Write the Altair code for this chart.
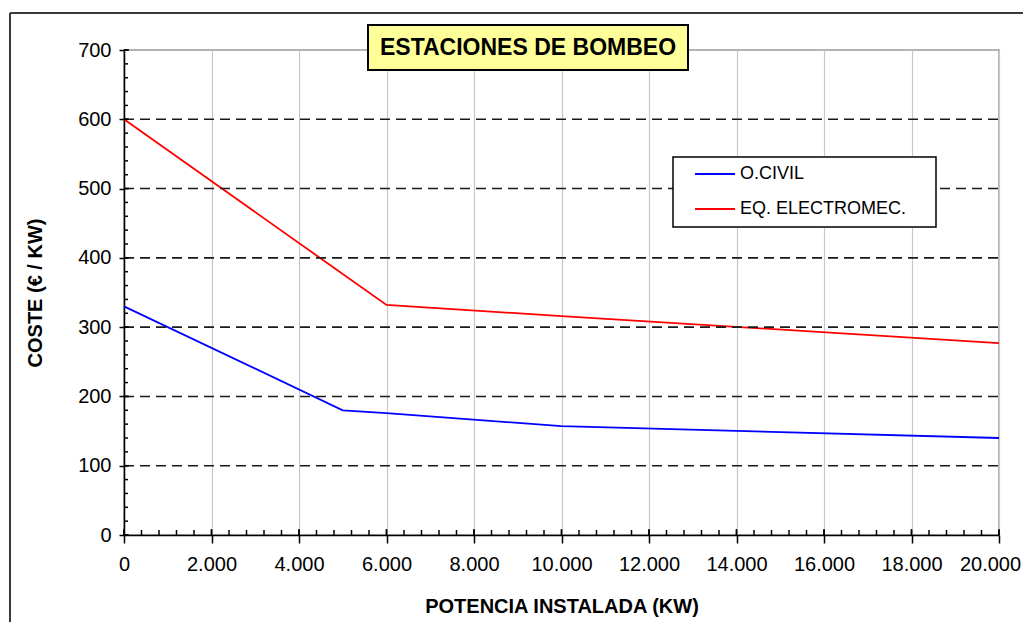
import altair as alt
import pandas as pd

# ---------------- data ----------------
series_names = ["O.CIVIL", "EQ. ELECTROMEC."]
series_colors = ["#0000FF", "#FF0000"]

civil_x = [0, 5000, 6000, 10000, 20000]
civil_y = [330, 180, 176, 157, 140]
elec_x = [0, 6000, 10000, 20000]
elec_y = [600, 332, 316, 277]

x_ticks = list(range(0, 20001, 2000))
y_ticks = list(range(0, 701, 100))
y_dash = [100, 200, 300, 400, 500, 600]
x_minor = list(range(0, 20001, 400))
y_minor = list(range(0, 701, 20))

chart_title = "ESTACIONES DE BOMBEO"
x_title = "POTENCIA INSTALADA (KW)"
y_title = "COSTE (€ / KW)"

# ---------------- layout ----------------
W, H = 875, 485
FONT = "Liberation Sans"

rows = []
for xv, yv in zip(civil_x, civil_y):
    rows.append({"series": series_names[0], "x": xv, "y": yv})
for xv, yv in zip(elec_x, elec_y):
    rows.append({"series": series_names[1], "x": xv, "y": yv})
df = pd.DataFrame(rows)

xs = alt.Scale(domain=[0, 20000], nice=False, zero=False)
ys = alt.Scale(domain=[0, 700], nice=False)
cs = alt.Scale(domain=series_names, range=series_colors)

x_axis = alt.Axis(
    values=x_ticks,
    labelExpr="replace(format(datum.value, ','), ',', '.')",
    labelFlush=False, labelOverlap=False,
    labelOffset=alt.condition("datum.value == 20000", alt.value(-9), alt.value(0)),
    labelFont=FONT, labelFontSize=20, labelColor="black", labelPadding=11,
    tickSize=8, tickColor="black", tickWidth=1.5,
    domainColor="black", domainWidth=1.5,
    grid=True, gridColor="#c8c8c8", gridWidth=1.2,
    title=x_title, titleFont=FONT, titleFontSize=20, titleFontWeight="bold",
    titleColor="black", titleX=W / 2, titleY=71, titleAlign="center",
    titleBaseline="middle",
)
y_axis = alt.Axis(
    values=y_ticks,
    labelFlush=False, labelOverlap=False,
    labelFont=FONT, labelFontSize=20, labelColor="black", labelPadding=8,
    tickSize=5, tickColor="black", tickWidth=1.5,
    domainColor="black", domainWidth=1.5,
    grid=False,
    title=y_title, titleFont=FONT, titleFontSize=20, titleFontWeight="bold",
    titleColor="black", titleAngle=270, titleX=-89, titleY=H / 2,
    titleAlign="center", titleBaseline="middle",
)

lines = alt.Chart(df).mark_line(strokeWidth=1.8).encode(
    x=alt.X("x:Q", scale=xs, axis=x_axis),
    y=alt.Y("y:Q", scale=ys, axis=y_axis),
    color=alt.Color("series:N", scale=cs, legend=None),
)

dash_grid = alt.Chart(pd.DataFrame({"y": y_dash})).mark_rule(
    color="#1a1a1a", strokeWidth=1.6, strokeDash=[10, 6]
).encode(y=alt.Y("y:Q", scale=ys, axis=y_axis), x=alt.value(0), x2=alt.value(W))

y_minor_ticks = alt.Chart(pd.DataFrame({"y": y_minor})).mark_rule(
    color="black", strokeWidth=1.5
).encode(y=alt.Y("y:Q", scale=ys, axis=y_axis), x=alt.value(0), x2=alt.value(4))
y_major_ticks = alt.Chart(pd.DataFrame({"y": y_ticks})).mark_rule(
    color="black", strokeWidth=1.5
).encode(y=alt.Y("y:Q", scale=ys, axis=y_axis), x=alt.value(0), x2=alt.value(5))
x_minor_ticks = alt.Chart(pd.DataFrame({"x": x_minor})).mark_rule(
    color="black", strokeWidth=1.5
).encode(x=alt.X("x:Q", scale=xs, axis=x_axis), y=alt.value(H), y2=alt.value(H - 5))
x_major_ticks = alt.Chart(pd.DataFrame({"x": x_ticks})).mark_rule(
    color="black", strokeWidth=1.5
).encode(x=alt.X("x:Q", scale=xs, axis=x_axis), y=alt.value(H), y2=alt.value(H - 6))

one = pd.DataFrame({"t": [chart_title]})

# outer frame (top and left edges visible)
frame_top = alt.Chart(one).mark_rule(color="#3a3a3a", strokeWidth=2).encode(
    x=alt.value(-114), x2=alt.value(W + 40), y=alt.value(-37))
frame_left = alt.Chart(one).mark_rule(color="#3a3a3a", strokeWidth=2).encode(
    x=alt.value(-114), y=alt.value(-37), y2=alt.value(H + 100))

# title box
title_box = alt.Chart(one).mark_rect(fill="#FFFF99", stroke="black", strokeWidth=2).encode(
    x=alt.value(244), x2=alt.value(564), y=alt.value(-25), y2=alt.value(20))
title_text = alt.Chart(one).mark_text(
    font=FONT, fontSize=23, fontWeight="bold", color="black",
    align="center", baseline="middle"
).encode(x=alt.value(404), y=alt.value(-2), text="t:N")

# legend
legend_box = alt.Chart(one).mark_rect(fill="white", stroke="black", strokeWidth=1.5).encode(
    x=alt.value(549), x2=alt.value(812), y=alt.value(107), y2=alt.value(177))
legend_layers = [legend_box]
for i, (name, col) in enumerate(zip(series_names, series_colors)):
    ly = 124 + 35 * i
    d = pd.DataFrame({"s": [name]})
    legend_layers.append(
        alt.Chart(d).mark_rule(strokeWidth=1.8, color=col).encode(
            x=alt.value(571), x2=alt.value(611), y=alt.value(ly)))
    legend_layers.append(
        alt.Chart(d).mark_text(font=FONT, fontSize=18, color="black",
                               align="left", baseline="middle").encode(
            x=alt.value(616), y=alt.value(ly), text="s:N"))

chart = alt.layer(
    lines, dash_grid, y_minor_ticks, y_major_ticks, x_minor_ticks, x_major_ticks,
    frame_top, frame_left, title_box, title_text, *legend_layers
).properties(
    width=W, height=H,
    autosize=alt.AutoSizeParams(type="none"),
    padding={"left": 116, "top": 42, "right": 24, "bottom": 87},
    background="white",
).configure_view(stroke="#9a9a9a", strokeWidth=1.5)

chart.save("out.html", embed_options={"renderer": "svg", "actions": False})
